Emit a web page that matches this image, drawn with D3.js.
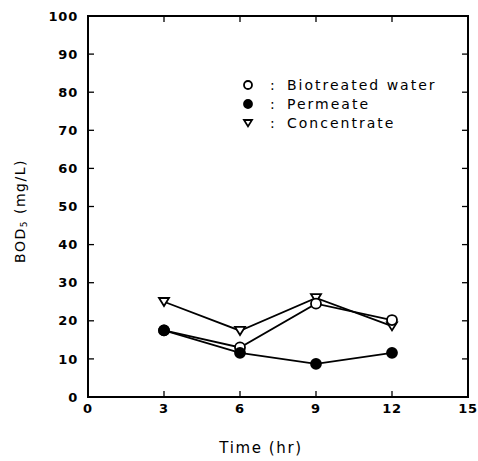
<!DOCTYPE html>
<html>
<head>
<meta charset="utf-8">
<script src="https://cdn.jsdelivr.net/npm/d3@7"></script>
<style>
  body { margin: 0; background: #fff; }
  text { font-family: 'DejaVu Sans', sans-serif; fill: #000; }
</style>
</head>
<body>
<div id="chart"></div>
<script>
// podaci ocitani sa slike
const times = [3, 6, 9, 12];
const biotreated = [17.5, 13.0, 24.5, 20.2];
const permeate = [17.5, 11.6, 8.7, 11.6];
const concentrate = [25.0, 17.4, 26.0, 18.6];
const xTicks = [0, 3, 6, 9, 12, 15];
const yTicks = [0, 10, 20, 30, 40, 50, 60, 70, 80, 90, 100];

const W = 478, H = 461;
const m = { top: 16, right: 10, bottom: 64, left: 88 };
const w = W - m.left - m.right, h = H - m.top - m.bottom;

const svg = d3.select('#chart').append('svg').attr('width', W).attr('height', H);
const g = svg.append('g').attr('transform', `translate(${m.left},${m.top})`);

const x = d3.scaleLinear().domain([0, 15]).range([0, w]);
const y = d3.scaleLinear().domain([0, 100]).range([h, 0]);

// okvir
g.append('rect').attr('x', 0).attr('y', 0).attr('width', w).attr('height', h)
  .attr('fill', 'none').attr('stroke', '#000').attr('stroke-width', 2);

// unutarnje crtice na sve cetiri strane
const tl = 6;
yTicks.slice(1, -1).forEach(v => {
  g.append('line').attr('x1', 0).attr('x2', tl).attr('y1', y(v)).attr('y2', y(v)).attr('stroke', '#000').attr('stroke-width', 1.3);
  g.append('line').attr('x1', w).attr('x2', w - tl).attr('y1', y(v)).attr('y2', y(v)).attr('stroke', '#000').attr('stroke-width', 1.3);
});
xTicks.slice(1, -1).forEach(v => {
  g.append('line').attr('x1', x(v)).attr('x2', x(v)).attr('y1', h).attr('y2', h - tl).attr('stroke', '#000').attr('stroke-width', 1.3);
  g.append('line').attr('x1', x(v)).attr('x2', x(v)).attr('y1', 0).attr('y2', tl).attr('stroke', '#000').attr('stroke-width', 1.3);
});

// oznake osi
yTicks.forEach(v => {
  g.append('text').attr('x', -10).attr('y', y(v)).attr('dy', '0.36em')
    .attr('text-anchor', 'end').attr('font-size', 13).attr('font-weight', 'bold')
    .attr('letter-spacing', 0.8).text(v);
});
xTicks.forEach(v => {
  g.append('text').attr('x', x(v)).attr('y', h + 16)
    .attr('text-anchor', 'middle').attr('font-size', 13).attr('font-weight', 'bold')
    .attr('letter-spacing', 0.8).text(v);
});

g.append('text').attr('x', w / 2 - 17).attr('y', h + 56).attr('text-anchor', 'middle')
  .attr('font-size', 15).attr('letter-spacing', 1.6).text('Time (hr)');

const yl = svg.append('text').attr('transform', `translate(25,211) rotate(-90)`)
  .attr('text-anchor', 'middle').attr('font-size', 14).attr('letter-spacing', 1.5);
yl.append('tspan').text('BOD');
yl.append('tspan').attr('font-size', 9).attr('dy', 2).text('5');
yl.append('tspan').attr('dy', -2).text(' (mg/L)');

// serije
const series = [
  { name: 'Biotreated water', vals: biotreated, sym: 'open' },
  { name: 'Permeate', vals: permeate, sym: 'filled' },
  { name: 'Concentrate', vals: concentrate, sym: 'tri' },
];
const line = d3.line().x(d => x(d[0])).y(d => y(d[1]));

function marker(sel, sym, cx, cy, s) {
  if (sym === 'tri') {
    sel.append('path').attr('d', `M${cx - s},${cy - s * 0.75}L${cx + s},${cy - s * 0.75}L${cx},${cy + s * 0.85}Z`)
      .attr('fill', '#fff').attr('stroke', '#000').attr('stroke-width', 1.8);
  } else {
    sel.append('circle').attr('cx', cx).attr('cy', cy).attr('r', s)
      .attr('fill', sym === 'filled' ? '#000' : '#fff').attr('stroke', '#000').attr('stroke-width', 1.8);
  }
}

series.forEach(s => {
  g.append('path').datum(times.map((t, i) => [t, s.vals[i]]))
    .attr('d', line).attr('fill', 'none').attr('stroke', '#000').attr('stroke-width', 1.8);
});
// redoslijed markera: trokut, prazni krug, puni krug
[series[2], series[0], series[1]].forEach(s => {
  times.forEach((t, i) => marker(g, s.sym, x(t), y(s.vals[i]), 5));
});

// legenda
series.forEach((s, i) => {
  const ly = 85 + i * 19;
  marker(svg, s.sym, 248, ly, 4);
  svg.append('text').attr('x', 270).attr('y', ly).attr('dy', '0.36em')
    .attr('font-size', 14).attr('letter-spacing', 2).text(':');
  svg.append('text').attr('x', 287).attr('y', ly).attr('dy', '0.36em')
    .attr('font-size', 14).attr('letter-spacing', 2).text(s.name);
});
</script>
</body>
</html>
